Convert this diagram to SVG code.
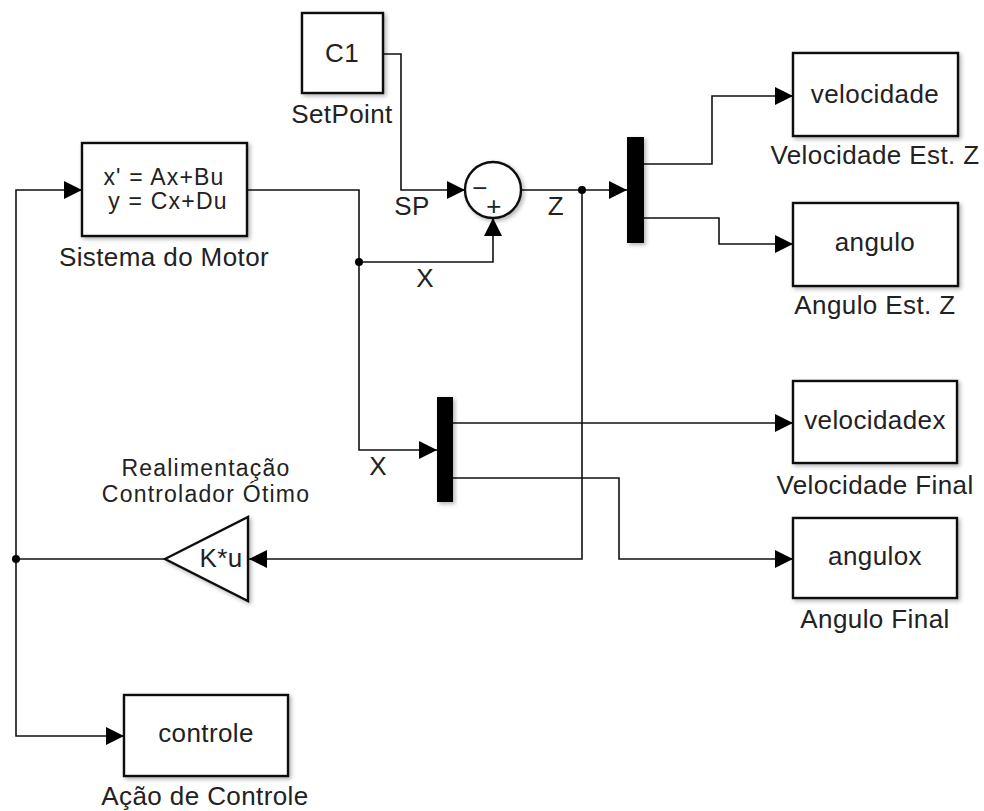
<svg xmlns="http://www.w3.org/2000/svg" width="984" height="811" viewBox="0 0 984 811">
<defs>
<filter id="sh" x="-20%" y="-20%" width="150%" height="150%">
<feDropShadow dx="2" dy="2" stdDeviation="2" flood-color="#000" flood-opacity="0.3"/>
</filter>
<marker id="ar" markerUnits="userSpaceOnUse" markerWidth="20" markerHeight="20" refX="18" refY="9" orient="auto">
<path d="M0,0 L18,9 L0,18 z" fill="#000"/>
</marker>
<style>
.blk{fill:#fff;stroke:#111;stroke-width:2.4;filter:url(#sh)}
.mux{fill:#000;filter:url(#sh)}
.ln{fill:none;stroke:#111;stroke-width:1.6}
.t{font-family:"Liberation Sans",Arial,Helvetica,sans-serif;font-size:26px;letter-spacing:0.4px;fill:#222;text-anchor:middle}
.s{font-size:23px;letter-spacing:1.2px}
.dot{fill:#000}
</style>
</defs>
<rect width="984" height="811" fill="#fff"/>

<g id="connectors">
<path class="ln" d="M383,54 H401 V190 H465" marker-end="url(#ar)"/>
<path class="ln" d="M247,190 H359 V450 H437" marker-end="url(#ar)"/>
<path class="ln" d="M359,262 H493 V218" marker-end="url(#ar)"/>
<path class="ln" d="M521,190 H627" marker-end="url(#ar)"/>
<path class="ln" d="M582,190 V559 H249" marker-end="url(#ar)"/>
<path class="ln" d="M165,559 H16 V190 H82" marker-end="url(#ar)"/>
<path class="ln" d="M16,559 V736 H124" marker-end="url(#ar)"/>
<path class="ln" d="M644,164 H712 V96 H793" marker-end="url(#ar)"/>
<path class="ln" d="M644,218 H719 V244 H793" marker-end="url(#ar)"/>
<path class="ln" d="M453,423 H793" marker-end="url(#ar)"/>
<path class="ln" d="M453,478 H619 V559 H793" marker-end="url(#ar)"/>
<circle class="dot" cx="359" cy="262" r="4"/>
<circle class="dot" cx="582" cy="190" r="4"/>
<circle class="dot" cx="16" cy="559" r="4"/>
<text class="t" x="412" y="215">SP</text>
<text class="t" x="556" y="215">Z</text>
<text class="t" x="425" y="287">X</text>
<text class="t" x="378" y="475">X</text>
</g>

<g id="setpoint">
<rect class="blk" x="302" y="13" width="81" height="80"/>
<text class="t" x="342" y="62">C1</text>
<text class="t" x="342" y="123">SetPoint</text>
</g>

<g id="sistema">
<rect class="blk" x="82" y="143" width="165" height="93"/>
<text class="t s" x="164" y="185">x' = Ax+Bu</text>
<text class="t s" x="168" y="209">y = Cx+Du</text>
<text class="t" x="164" y="266">Sistema do Motor</text>
</g>

<g id="sum">
<circle class="blk" cx="493" cy="190" r="28"/>
<text class="t" x="480" y="197">−</text>
<text class="t" x="494" y="215">+</text>
</g>

<g id="mux1">
<rect class="mux" x="627" y="137" width="17" height="106"/>
</g>

<g id="mux2">
<rect class="mux" x="437" y="397" width="16" height="105"/>
</g>

<g id="velocidade">
<rect class="blk" x="793" y="53" width="165" height="83"/>
<text class="t" x="875" y="103">velocidade</text>
<text class="t" x="875" y="164">Velocidade Est. Z</text>
</g>

<g id="angulo">
<rect class="blk" x="793" y="203" width="165" height="83"/>
<text class="t" x="875" y="251">angulo</text>
<text class="t" x="875" y="314">Angulo Est. Z</text>
</g>

<g id="velocidadex">
<rect class="blk" x="793" y="381" width="164" height="82"/>
<text class="t" x="875" y="429">velocidadex</text>
<text class="t" x="875" y="494">Velocidade Final</text>
</g>

<g id="angulox">
<rect class="blk" x="793" y="518" width="164" height="80"/>
<text class="t" x="875" y="565">angulox</text>
<text class="t" x="875" y="628">Angulo Final</text>
</g>

<g id="gain">
<polygon class="blk" points="165,559 248,517 248,601"/>
<text class="t" x="221" y="567">K*u</text>
<text class="t s" x="206" y="476">Realimentação</text>
<text class="t s" x="206" y="502">Controlador Ótimo</text>
</g>

<g id="controle">
<rect class="blk" x="124" y="695" width="164" height="81"/>
<text class="t" x="206" y="742">controle</text>
<text class="t" x="205" y="805">Ação de Controle</text>
</g>
</svg>
